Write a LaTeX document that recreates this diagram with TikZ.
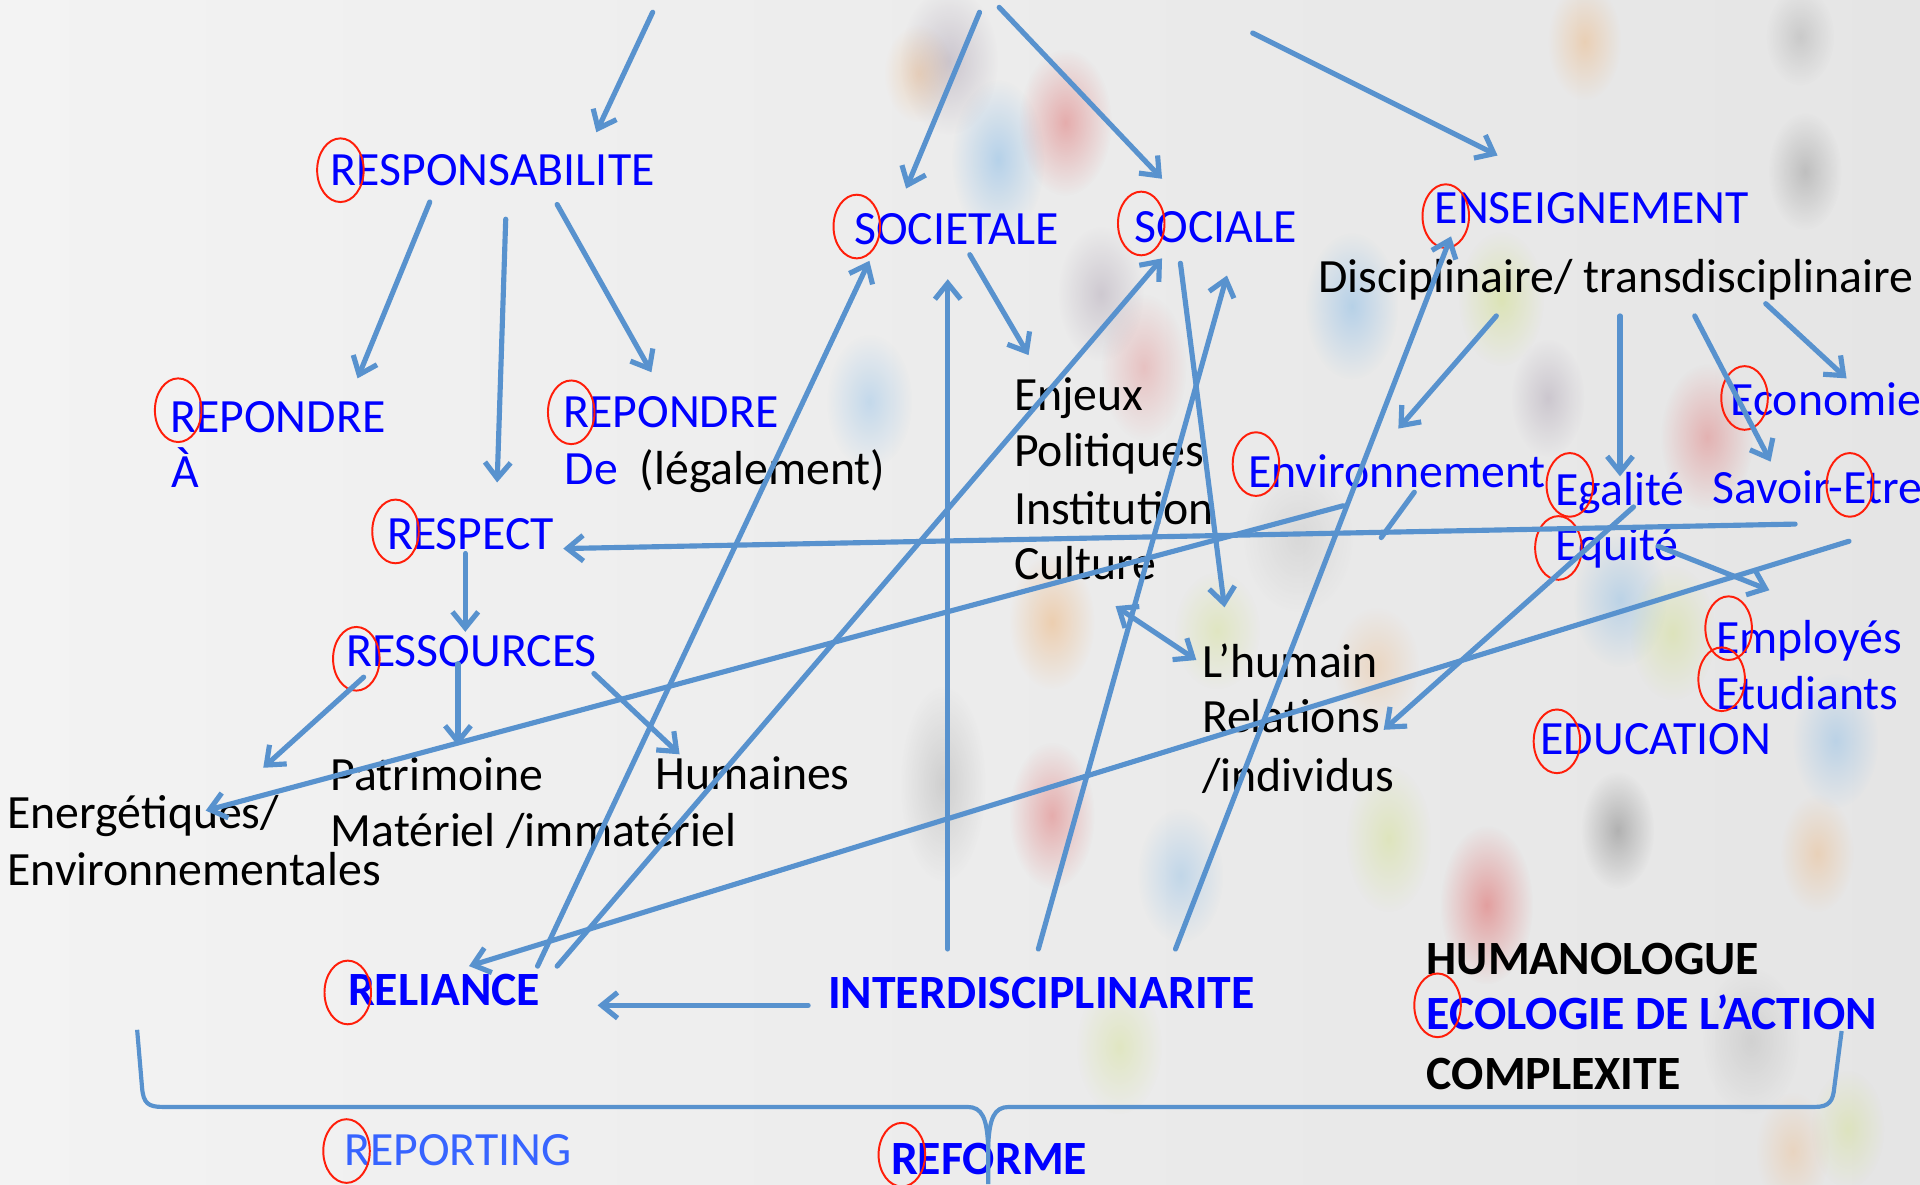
\documentclass[tikz,border=0pt]{standalone}
\usepackage{fontspec}
\setmainfont{Carlito}
\usetikzlibrary{arrows.meta,fadings}
\tikzfading[name=blobfade, inner color=transparent!0, outer color=transparent!100]
\definecolor{bgL}{RGB}{243,243,243}
\definecolor{bgR}{RGB}{229,229,229}
\definecolor{lnblue}{RGB}{88,146,206}
\definecolor{txtblue}{RGB}{0,0,255}
\definecolor{repblue}{RGB}{55,100,255}
\definecolor{circred}{RGB}{255,30,10}
\definecolor{blobblue}{RGB}{100,170,230}
\definecolor{blobred}{RGB}{220,70,70}
\definecolor{blobpurple}{RGB}{120,100,130}
\definecolor{blobyellow}{RGB}{200,220,100}
\definecolor{bloborange}{RGB}{240,160,80}
\definecolor{blobgray}{RGB}{90,90,90}
\begin{document}
\begin{tikzpicture}[x=1pt,y=-1pt,
  lbl/.style={anchor=base west, inner sep=0pt, font=\fontsize{39}{46}\selectfont},
  bl/.style={lbl, text=txtblue},
  bk/.style={lbl, text=black},
  bbl/.style={lbl, text=txtblue, font=\fontsize{39}{46}\selectfont\bfseries},
  bbk/.style={lbl, text=black, font=\fontsize{39}{46}\selectfont\bfseries},
  arr/.style={draw=lnblue, line width=4.2pt, line cap=round, -{Straight Barb[length=13pt,width=21pt]}},
  darr/.style={draw=lnblue, line width=4.2pt, line cap=round, {Straight Barb[length=13pt,width=21pt]}-{Straight Barb[length=13pt,width=21pt]}},
  plain/.style={draw=lnblue, line width=4.2pt, line cap=round},
  ring/.style={draw=circred, line width=1.6pt},
  blob/.style={path fading=blobfade}]
\useasboundingbox (0,0) rectangle (1568,967);
\shade[left color=bgL, right color=bgR] (0,0) rectangle (1568,967);
% background blobs
\foreach \bx/\by/\rx/\ry/\bc/\bo in {
 815/130/38/65/blobblue/.4, 870/100/38/60/blobred/.38, 775/50/40/60/blobpurple/.28,
 750/60/28/40/bloborange/.28, 934/300/35/60/blobred/.25, 899/240/35/55/blobpurple/.25,
 710/328/35/55/blobblue/.3, 1104/250/38/60/blobblue/.38, 1226/244/35/55/blobyellow/.38,
 1264/325/30/48/blobpurple/.25, 1294/34/30/48/bloborange/.33, 1474/140/30/48/blobgray/.28,
 1394/357/38/60/blobred/.33, 1470/30/28/40/blobgray/.2, 859/508/35/55/bloborange/.38,
 994/515/35/48/blobyellow/.3, 1124/544/35/48/bloborange/.25, 1323/490/38/55/blobblue/.33,
 1366/517/35/55/blobyellow/.33, 1499/605/35/55/blobblue/.33, 859/666/35/60/blobred/.38,
 964/715/35/55/blobblue/.3, 1134/685/35/60/blobyellow/.33, 1321/678/30/48/blobgray/.38,
 1214/739/38/65/blobred/.45, 1484/697/30/48/bloborange/.3, 914/855/35/55/blobyellow/.3,
 1509/922/30/48/blobyellow/.3, 1464/940/30/48/bloborange/.25, 770/640/35/80/blobgray/.2,
 1430/850/40/60/blobgray/.15, 1060/440/45/60/blobgray/.12}
 \fill[\bc, opacity=\bo, blob] (\bx,\by) ellipse [x radius=\rx, y radius=\ry];

% ---------- text nodes ----------
\node[bl] (resp) at (270,151.6) {RESPONSABILITE};
\node[bl] (repa) at (139,353) {REPONDRE};
\node[bl] (repa2) at (140,398.4) {À};
\node[bl] (repd) at (460,349.4) {REPONDRE};
\node[bl] (repd2) at (461,395.3) {De\hspace{18pt}\textcolor{black}{(légalement)}};
\node[bl] (respect) at (316,448.4) {RESPECT};
\node[bl] (societale) at (697.5,200) {SOCIETALE};
\node[bl] (sociale) at (926.5,198.4) {SOCIALE};
\node[bl] (ens) at (1171.5,182.8) {ENSEIGNEMENT};
\node[bk] (disc) at (1076.5,239) {Disciplinaire/ transdisciplinaire};
\node[bk] (enjeux) at (828,335) {Enjeux};
\node[bk] (polit) at (828,381) {Politiques};
\node[bk] (instit) at (828,428) {Institution};
\node[bk] (cult) at (828,473) {Culture};
\node[bl] (eco) at (1413,339) {Economie};
\node[bl] (env) at (1019,398.4) {Environnement};
\node[bl] (egal) at (1270,412.5) {Egalité};
\node[bl] (savoir) at (1398,411) {Savoir-Etre};
\node[bl] (equi) at (1270,458) {Equité};
\node[bl] (ress) at (282.5,544.7) {RESSOURCES};
\node[bk] (patri) at (270,645.6) {Patrimoine};
\node[bk] (mater) at (270,691) {Matériel /immatériel};
\node[bk] (hum) at (535,645) {Humaines};
\node[bk] (energ) at (6,677) {Energétiques/};
\node[bk] (envt) at (6,723.5) {Environnementales};
\node[bk] (lhum) at (981.5,553) {L’humain};
\node[bk] (relat) at (981.5,598) {Relations};
\node[bk] (indiv) at (981.5,646.6) {/individus};
\node[bl] (empl) at (1401.5,534) {Employés};
\node[bl] (etud) at (1401.5,579.7) {Etudiants};
\node[bl] (educ) at (1258,616) {EDUCATION};
\node[bbl] (reli) at (284,821) {RELIANCE};
\node[bbl] (inter) at (676,823.8) {INTERDISCIPLINARITE};
\node[bbk] (humano) at (1165,795.5) {HUMANOLOGUE};
\node[bbl] (ecol) at (1165,841) {ECOLOGIE DE L’ACTION};
\node[bbk] (compl) at (1165,889.8) {COMPLEXITE};
\node[lbl, text=repblue] (report) at (281,952) {REPORTING};
\node[bbl] (reform) at (727.5,959) {REFORME};

% ---------- red rings ----------
\foreach \cx/\cy in {278/139, 145.5/335, 466.5/336.7, 323/434, 699.7/185, 932/182.5,
  1180.7/176.5, 1424.7/325, 1025.7/379, 1282/396, 1510.7/396, 1272.7/447.5, 291/538,
  1411.7/513, 1406/554.7, 1271.5/605.4, 284/810.5, 1174/821, 283/940, 736.5/943}
  \draw[ring] (\cx,\cy) ellipse [x radius=19, y radius=26];

% ---------- connector end points ----------
\coordinate (a1s) at (533,10);    \coordinate (a1e) at (487,108);
\coordinate (a2s) at (351,165);   \coordinate (a2e) at (292,309);
\coordinate (a3s) at (413,179);   \coordinate (a3e) at (406,394);
\coordinate (a4s) at (455,167);   \coordinate (a4e) at (532,304);
\coordinate (a5s) at (800,10);    \coordinate (a5e) at (740,154);
\coordinate (a6s) at (816,6);     \coordinate (a6e) at (949,146);
\coordinate (a7s) at (1023,27);   \coordinate (a7e) at (1223,127);
\coordinate (a8s) at (792,208);   \coordinate (a8e) at (840,290);
\coordinate (a9s) at (964,215);   \coordinate (a9e) at (1000,496);
\coordinate (a10s) at (1222,258); \coordinate (a10e) at (1142,350);
\coordinate (a11s) at (1323,258); \coordinate (a11e) at (1323,389);
\coordinate (a12s) at (1384,258); \coordinate (a12e) at (1446,377);
\coordinate (a13s) at (1442,248); \coordinate (a13e) at (1508,309);
\coordinate (a14s) at (1466,428); \coordinate (a14e) at (460,448);
\coordinate (a15s) at (380,452);  \coordinate (a15e) at (380,516);
\coordinate (a16s) at (297,553);  \coordinate (a16e) at (215,627);
\coordinate (a17s) at (374,542);  \coordinate (a17e) at (374,609);
\coordinate (a18s) at (485,550);  \coordinate (a18e) at (555,616);
\coordinate (a19s) at (1097,413); \coordinate (a19e) at (168,662);
\coordinate (a20s) at (1334,414); \coordinate (a20e) at (1130,596);
\coordinate (a21s) at (1354,446); \coordinate (a21e) at (1445,482);
\coordinate (a22s) at (1510,442); \coordinate (a22e) at (383,789);
\coordinate (a23s) at (439,789);  \coordinate (a23e) at (710,213);
\coordinate (a24s) at (455,789);  \coordinate (a24e) at (949,211);
\coordinate (a25s) at (774,775);  \coordinate (a25e) at (774,228);
\coordinate (a26s) at (848,775);  \coordinate (a26e) at (1002,225);
\coordinate (a27s) at (960,775);  \coordinate (a27e) at (1185,193);
\coordinate (a28s) at (660,821);  \coordinate (a28e) at (488,821);
\coordinate (a29s) at (911,495);  \coordinate (a29e) at (977,539);
\coordinate (l1s) at (1155,402);  \coordinate (l1e) at (1128,439);

% ---------- connectors ----------
\foreach \k in {1,...,28} \draw[arr] (a\k s) -- (a\k e);
\draw[darr] (a29s) -- (a29e);
\draw[plain] (l1s) -- (l1e);

% ---------- brace ----------
\coordinate (brL) at (112,841);
\coordinate (brR) at (1504,842);
\coordinate (brM) at (807,967);
\draw[draw=lnblue, line width=3.4pt]
  (brL) -- (116,888) .. controls (117,901) and (121,904) .. (133,904) -- (790,904)
  .. controls (802,904) and (806,913) .. (807,936) -- (brM);
\draw[draw=lnblue, line width=3.4pt]
  (807,936) .. controls (808,913) and (812,904) .. (824,904) -- (1482,904)
  .. controls (1494,904) and (1497,899) .. (1498,888) -- (brR);
\end{tikzpicture}
\end{document}
